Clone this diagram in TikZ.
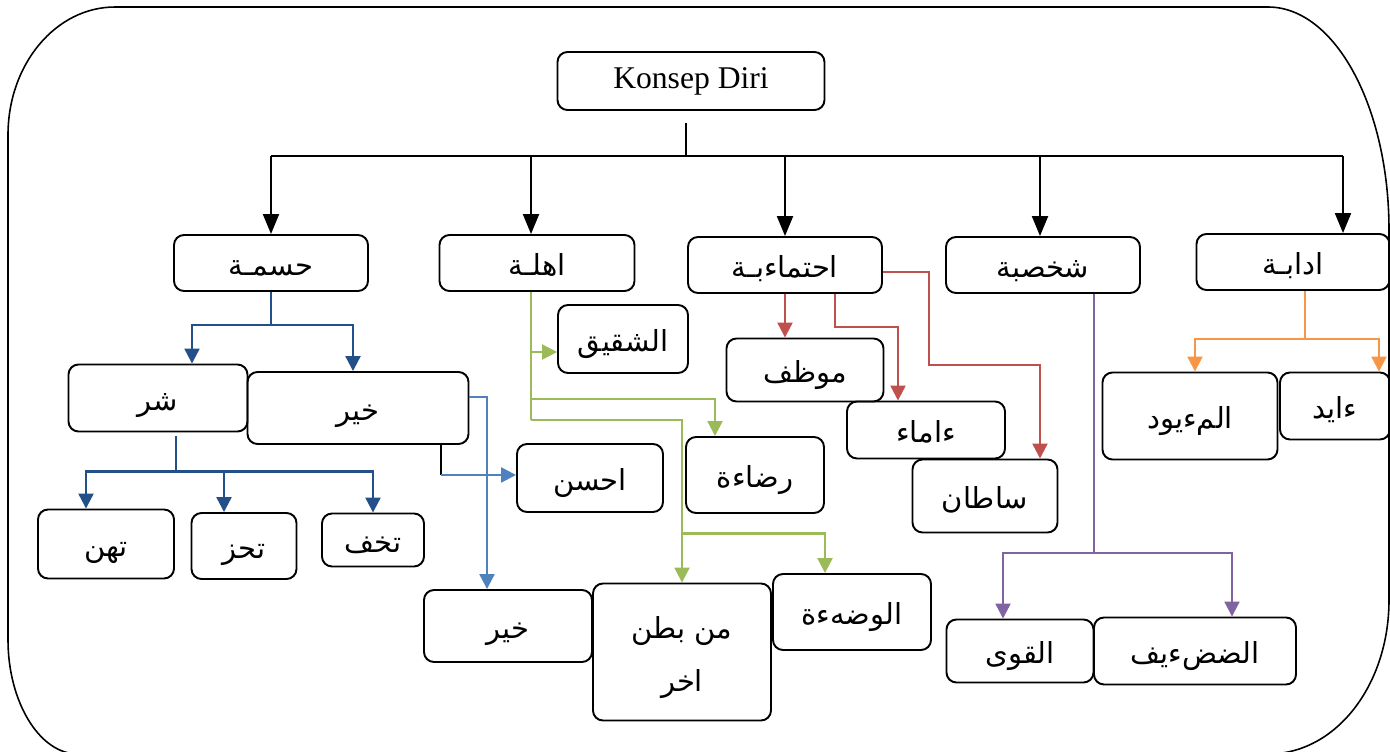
\documentclass[tikz,border=0pt]{standalone}
\usepackage{fontspec}
\setmainfont{Liberation Serif}
\newfontfamily\arabicfont[Script=Arabic]{DejaVu Sans}
\TeXXeTstate=1
\usepackage{tikz}
\usetikzlibrary{arrows.meta,calc}
\definecolor{navyblue}{HTML}{24508A}
\definecolor{skyblue}{HTML}{4F81BD}
\definecolor{leafgreen}{HTML}{9BBB59}
\definecolor{brickred}{HTML}{C0504D}
\definecolor{plum}{HTML}{8064A2}
\definecolor{amber}{HTML}{F79646}
\newcommand{\artxt}[1]{\beginR #1\endR}
\tikzset{
box/.style={draw, rounded corners=0.2cm, line width=1.1pt, inner sep=0pt, align=center}, % every box
arbox/.style={box, font=\arabicfont\fontsize{16.5}{30}\selectfont, text height=0.6cm, text depth=0.12cm}, % boxes with arabic text
sz/.style 2 args={minimum width=#1*0.02cm, minimum height=#2*0.02cm}, % size in pixels
trunk/.style={line width=1.2pt},
blackhead/.style={-{Triangle[width=0.32cm,length=0.4cm]}},
pointer/.style={-{Triangle[width=0.3cm,length=0.3cm]}},
navyline/.style={draw=navyblue, line width=1.3pt},
skyline/.style={draw=skyblue, line width=1.3pt},
leaf/.style={draw=leafgreen, line width=1.3pt},
redline/.style={draw=brickred, line width=1.3pt},
plumline/.style={draw=plum, line width=1.3pt},
amberline/.style={draw=amber, line width=1.3pt},
frame/.style={line width=0.9pt},
}

\begin{document}
\begin{tikzpicture}[x=0.02cm,y=-0.02cm]
   \useasboundingbox (0,0) rectangle (1390,751);
   % outer frame
   \draw[frame] (8,135) .. controls (8,64) and (56,7) .. (115,7) -- (1268,7)
      .. controls (1335,7) and (1389,107) .. (1389,230) -- (1389,600)
      .. controls (1389,685) and (1336,754) .. (1268,754) -- (78,754)
      .. controls (39,754) and (8,701) .. (8,640) -- cycle;

   \node[box, sz={267}{58}, font=\fontsize{18}{22}\selectfont] (konsep) at (691,81) {Konsep Diri};

   % first level
   \node[arbox, sz={194}{56}] (jasmani) at (271,263) {\artxt{حسمـة}};
   \node[arbox, sz={195}{56}] (ahli) at (537,263) {\artxt{اهلـة}};
   \node[arbox, sz={194}{56}] (ijtimai) at (785,265) {\artxt{احتماءبـة}};
   \node[arbox, sz={194}{56}] (shakhsi) at (1043,265) {\artxt{شخصبة}};
   \node[arbox, sz={193}{56}] (adabi) at (1293,262) {\artxt{ادابـة}};

   % second level
   \node[arbox, sz={179}{67}] (shar) at (158,398) {\artxt{شر}};
   \node[arbox, sz={221}{72}] (khair) at (358,408) {\artxt{خير}};
   \node[arbox, sz={136}{69}] (tahun) at (106,544) {\artxt{تهن}};
   \node[arbox, sz={105}{66}] (tahuz) at (244,546) {\artxt{تحز}};
   \node[arbox, sz={102}{53}] (takhaf) at (373,540) {\artxt{تخف}};
   \node[arbox, sz={146}{68}] (ahsan) at (590,478) {\artxt{احسن}};
   \node[arbox, sz={168}{72}] (khairb) at (508,626) {\artxt{خير}};

   \node[arbox, sz={130}{68}] (shaqiq) at (623,339) {\artxt{الشقيق}};
   \node[arbox, sz={138}{76}] (radaa) at (755,475) {\artxt{رضاءة}};
   \node[arbox, sz={178}{137}, text height=1.68cm] (batn) at (682,652) {\artxt{من بطن}\\\artxt{اخر}};
   \node[arbox, sz={158}{76}] (wadia) at (852,612) {\artxt{الوضهءة}};

   \node[arbox, sz={157}{63}] (muwazzaf) at (805,370) {\artxt{موظف}};
   \node[arbox, sz={158}{57}] (ulama) at (926,430) {\artxt{ءاماء}};
   \node[arbox, sz={145}{73}] (sultan) at (985,496) {\artxt{ساطان}};

   \node[arbox, sz={147}{63}] (qawi) at (1020,651) {\artxt{القوى}};
   \node[arbox, sz={202}{67}] (daif) at (1195,651) {\artxt{الضضءيف}};

   \node[arbox, sz={175}{87}] (mabud) at (1190,416) {\artxt{المءيود}};
   \node[arbox, sz={110}{67}] (abid) at (1335,406) {\artxt{ءايد}};

   % trunk
   \coordinate (hub) at (686,156);
   \draw[trunk, shorten <=0.24cm] (hub |- konsep.south) -- (hub);
   \draw[trunk, line width=1.5pt] (jasmani.north |- hub) -- ([xshift=1cm]adabi.north |- hub);
   \foreach \n/\dx in {jasmani/0, ahli/-0.12, ijtimai/0, shakhsi/-0.06, adabi/1}
      \draw[trunk, blackhead] ([xshift=\dx cm]\n.north |- hub) -- ([xshift=\dx cm]\n.north);

   % jasmani
   \draw[navyline] (jasmani.south) -- ++(0,33) coordinate (jfork);
   \draw[navyline, pointer] (jfork) -| ([xshift=0.68cm]shar.north);
   \draw[navyline, pointer] (jfork) -| ([xshift=-0.1cm]khair.north);
   \draw[navyline] ([xshift=0.36cm]shar.south) ++(0,4) -- ++(0,35) coordinate (sfork);
   \draw[navyline, pointer] (sfork) -| ([xshift=-0.4cm]tahun.north);
   \draw[navyline, pointer] (sfork) -| ([xshift=-0.4cm]tahuz.north);
   \draw[navyline, pointer] (sfork) -| (takhaf.north);
   \draw[skyline, pointer] ([yshift=0.22cm]khair.east) -| ([xshift=-0.42cm]khairb.north);
   \draw[trunk] ([xshift=1.66cm]khair.south) -- ++(0,30) coordinate (kbend);
   \draw[skyline, pointer] (kbend) -- (kbend -| ahsan.west);

   % ahli
   \coordinate (gstem) at ([xshift=-0.12cm]ahli.south);
   \coordinate (shaqiqin) at ([yshift=-0.26cm]shaqiq.west);
   \draw[leaf] (gstem) -- ++(0,128) coordinate (gfoot);
   \draw[leaf, pointer] (gstem |- shaqiqin) -- (shaqiqin);
   \draw[leaf, pointer] (gfoot) ++(0,-21) -| ([xshift=-0.8cm]radaa.north);
   \draw[leaf, pointer] (gfoot) -| (batn.north);
   \draw[leaf, pointer] (batn.north) ++(0,-49) -| ([xshift=-0.54cm]wadia.north);

   % ijtimai
   \draw[redline, pointer] (ijtimai.south) -- (ijtimai.south |- muwazzaf.north);
   \draw[redline, pointer] ([xshift=1cm]ijtimai.south) -- ++(0,33) -| ([xshift=-0.56cm]ulama.north);
   \draw[redline, pointer] ([yshift=-0.14cm]ijtimai.east) -- ++(46,0) -- ++(0,93) -| ([xshift=1.1cm]sultan.north);

   % shakhsi
   \draw[plumline] ([xshift=1.02cm]shakhsi.south) -- ++(0,259) coordinate (pfork);
   \draw[plumline, pointer] (pfork) -| ([xshift=-0.34cm]qawi.north);
   \draw[plumline, pointer] (pfork) -| ([xshift=0.74cm]daif.north);

   % adabi
   \draw[amberline] ([xshift=0.24cm]adabi.south) -- ++(0,48) coordinate (ofork);
   \draw[amberline, pointer] (ofork) -| ([xshift=0.1cm]mabud.north);
   \draw[amberline, pointer] (ofork) -| ([xshift=0.88cm]abid.north);
\end{tikzpicture}
\end{document}
